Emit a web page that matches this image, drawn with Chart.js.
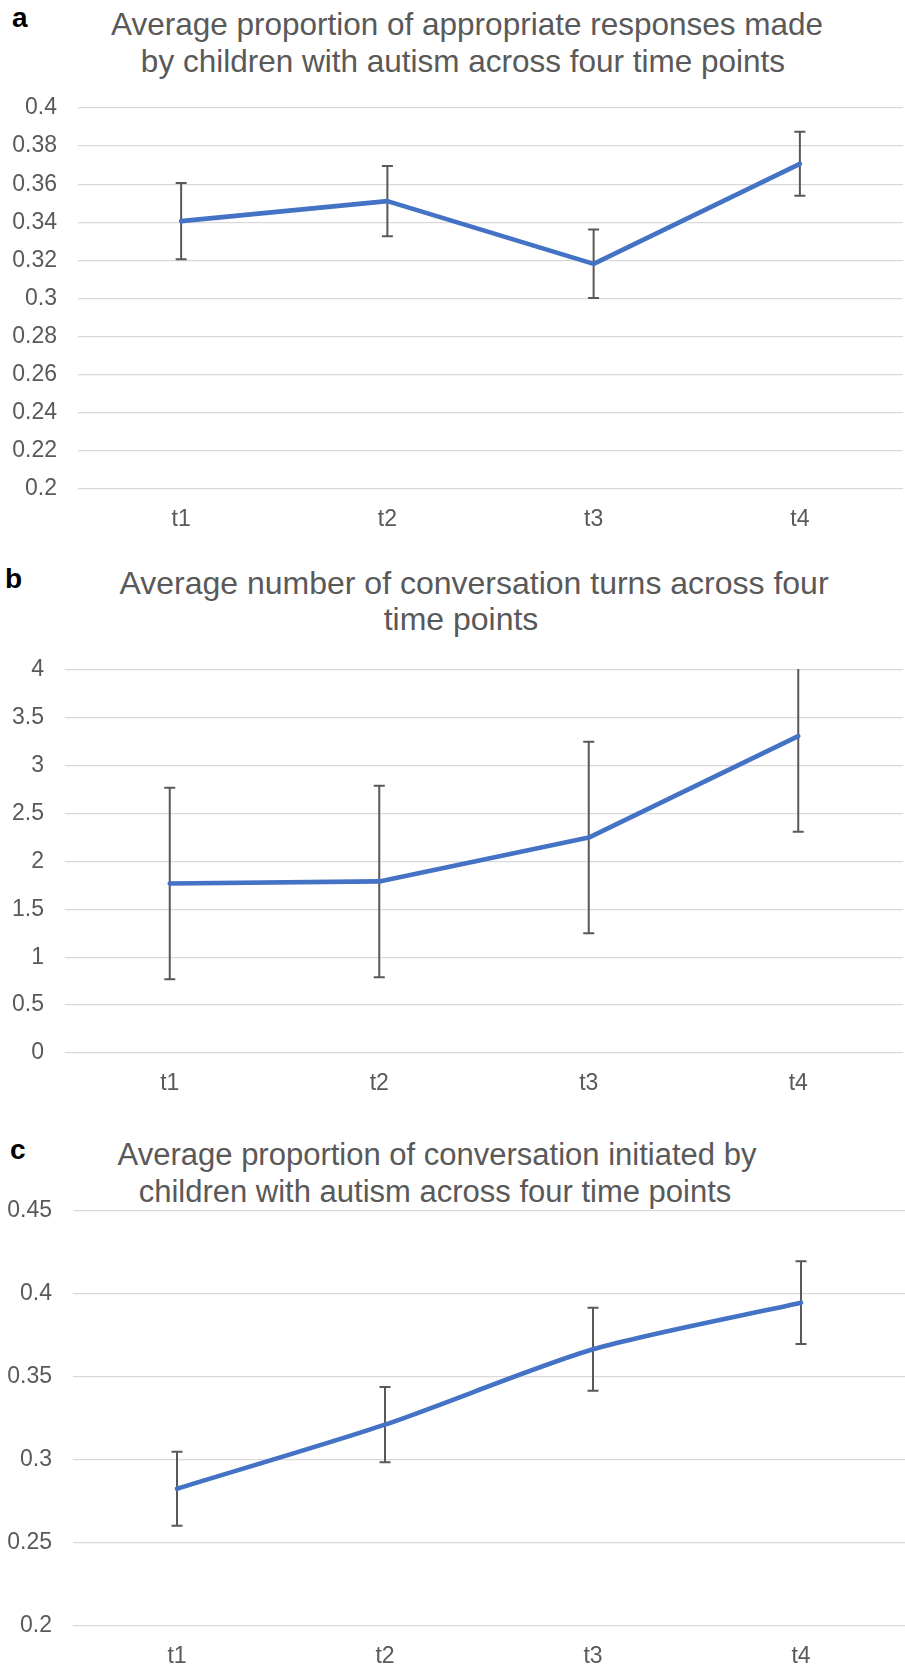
<!DOCTYPE html>
<html>
<head>
<meta charset="utf-8">
<script src="https://cdn.jsdelivr.net/npm/chart.js@4.4.1/dist/chart.umd.min.js"></script>
<style>
  html, body { margin: 0; padding: 0; background: #fff; }
  body { width: 905px; height: 1665px; position: relative; overflow: hidden;
         font-family: "Liberation Sans", Arial, sans-serif; }
  .wrap { position: absolute; left: 0; width: 905px; }
  .ttl { position: absolute; width: 900px; text-align: center; color: #595959;
         font-size: 31.5px; line-height: 36px; white-space: nowrap; }
  .tag { position: absolute; font-weight: bold; color: #000; font-size: 28px; line-height: 28px; }
</style>
</head>
<body>

<div class="tag" style="left:12px; top:4px;">a</div>
<div class="ttl" style="left:17px; top:6px;">Average proportion of appropriate responses made</div>
<div class="ttl" style="left:13px; top:43px;">by children with autism across four time points</div>
<div class="wrap" style="top:88px; height:446px;"><canvas id="chartA"></canvas></div>

<div class="tag" style="left:5px; top:565px;">b</div>
<div class="ttl" style="left:24px; top:565px; font-size:32px;">Average number of conversation turns across four</div>
<div class="ttl" style="left:11px; top:601px; font-size:32px;">time points</div>
<div class="wrap" style="top:650px; height:448px;"><canvas id="chartB"></canvas></div>

<div class="tag" style="left:10px; top:1136px;">c</div>
<div class="ttl" style="left:-13px; top:1137px; font-size:31px;">Average proportion of conversation initiated by</div>
<div class="ttl" style="left:-15px; top:1174px; font-size:31px;">children with autism across four time points</div>
<div class="wrap" style="top:1191px; height:474px;"><canvas id="chartC"></canvas></div>

<script>
// time points on the x axis
const timePoints = ['t1', 't2', 't3', 't4'];

// a: proportion of appropriate responses
const responsesMean = [0.3406, 0.3511, 0.3182, 0.3707];
const responsesErr = [0.0200, 0.0184, 0.0180, 0.0168];

// b: number of conversation turns
const turnsMean = [1.770, 1.792, 2.250, 3.310];
const turnsErr = [1.0, 1.0, 1.0, 1.0];

// c: proportion of conversation initiated
const initiatedMean = [0.2827, 0.3213, 0.3667, 0.3948];
const initiatedErr = [0.0223, 0.0227, 0.0250, 0.0249];

const FONT = '"Liberation Sans", Arial, sans-serif';
const GREY = '#595959';

// draws the +/- error bars from the y scale of each chart
const errorBars = {
  id: 'errorBars',
  beforeDatasetsDraw(chart, args, opts) {
    const errs = opts.errors;
    if (!errs) return;
    const ctx = chart.ctx;
    const area = chart.chartArea;
    const meta = chart.getDatasetMeta(0);
    const vals = chart.data.datasets[0].data;
    const y = chart.scales.y;
    ctx.save();
    ctx.beginPath();
    ctx.rect(area.left, area.top - 1, area.right - area.left, area.bottom - area.top + 2);
    ctx.clip();
    ctx.strokeStyle = GREY;
    ctx.lineWidth = 2;
    meta.data.forEach((pt, i) => {
      const x = pt.x;
      const hi = vals[i] + errs[i];
      const lo = vals[i] - errs[i];
      const yHi = y.getPixelForValue(hi);
      const yLo = y.getPixelForValue(lo);
      ctx.beginPath();
      ctx.moveTo(x, yHi);
      ctx.lineTo(x, yLo);
      if (hi <= y.max) { ctx.moveTo(x - 5.5, yHi); ctx.lineTo(x + 5.5, yHi); }
      if (lo >= y.min) { ctx.moveTo(x - 5.5, yLo); ctx.lineTo(x + 5.5, yLo); }
      ctx.stroke();
    });
    ctx.restore();
  }
};

function makeChart(id, means, errs, yMin, yMax, yStep, yWidth, xHeight, padRight, tension) {
  return new Chart(document.getElementById(id), {
    type: 'line',
    data: {
      labels: timePoints,
      datasets: [{
        data: means,
        borderColor: '#4472C4',
        borderWidth: 4.6,
        borderCapStyle: 'round',
        borderJoinStyle: 'round',
        pointRadius: 0,
        tension: tension,
        fill: false
      }]
    },
    options: {
      responsive: true,
      maintainAspectRatio: false,
      animation: false,
      layout: { padding: { top: 20, right: padRight, bottom: 0, left: 0 } },
      plugins: {
        legend: { display: false },
        tooltip: { enabled: false },
        errorBars: { errors: errs }
      },
      scales: {
        x: {
          offset: true,
          grid: { display: false },
          border: { display: false },
          ticks: { color: GREY, font: { family: FONT, size: 23 }, padding: 9 },
          afterFit: s => { s.height = xHeight; }
        },
        y: {
          min: yMin,
          max: yMax,
          // transparent tick marks keep the labels 21px off the grid
          grid: { color: '#d9d9d9', lineWidth: 1.3, drawTicks: true, tickLength: 21, tickColor: 'rgba(0,0,0,0)' },
          border: { display: false },
          ticks: {
            stepSize: yStep,
            color: GREY,
            padding: 0,
            font: { family: FONT, size: 23 },
            callback: v => String(parseFloat(v.toFixed(4)))
          },
          afterFit: s => { s.width = yWidth; }
        }
      }
    },
    plugins: [errorBars]
  });
}

makeChart('chartA', responsesMean, responsesErr, 0.2, 0.4, 0.02, 78, 45, 2, 0);
makeChart('chartB', turnsMean, turnsErr, 0, 4, 0.5, 65, 45, 2, 0);
makeChart('chartC', initiatedMean, initiatedErr, 0.2, 0.45, 0.05, 73, 39, 0, 0.25);
</script>
</body>
</html>
